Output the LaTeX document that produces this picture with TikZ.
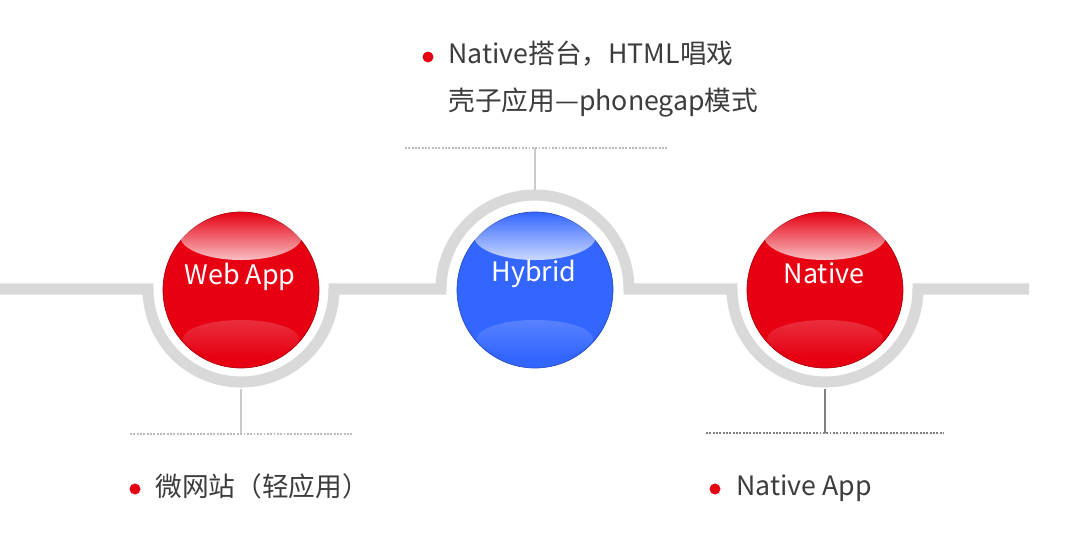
\documentclass[tikz,border=0pt]{standalone}
\usepackage{fontspec}
\setmainfont{Noto Sans CJK SC}
\usetikzlibrary{fadings}

\definecolor{appred}{HTML}{E60012}
\definecolor{hybblue}{HTML}{3366FF}
\definecolor{track}{HTML}{D9D9D9}
\definecolor{txt}{HTML}{3C3C3C}
\definecolor{stem}{HTML}{CCCCCC}
\definecolor{stemdark}{HTML}{7F7F7F}

% gloss on a ball
\newcommand{\glossball}[1]{%
  \fill[white, path fading=north, opacity=.75] ([yshift=1.08cm]#1.center) ellipse [x radius=61, y radius=24];
  \fill[white, path fading=south, opacity=.18] ([yshift=-0.98cm]#1.center) ellipse [x radius=58, y radius=19];
}

\begin{document}
\begin{tikzpicture}[x=0.02cm, y=-0.02cm,
    ball/.style={circle, inner sep=0pt, minimum size=3.12cm, draw=#1!75!black, line width=0.4pt, fill=#1},
    balltext/.style={anchor=base, inner sep=0pt, text=white, font=\fontsize{15.3}{18}\selectfont},
    rail/.style={draw=track, line width=6.3pt},
    stemline/.style={draw=#1, line width=0.85pt},
    dotline/.style={draw=#1, line width=0.8pt, dash pattern=on 1.1pt off 0.8pt},
    bullet/.style={circle, fill=appred, inner sep=0pt, minimum size=0.22cm},
    note/.style={anchor=base west, inner sep=0pt, text=txt, font=\fontsize{15.2}{20}\selectfont}]
  \useasboundingbox (0,0) rectangle (1069,534);

  % rail
  \draw[rail] (0,289) -- (148,289) arc[start angle=180, end angle=0, radius=93]
    -- (441,289) arc[start angle=180, end angle=360, radius=94]
    -- (732,289) arc[start angle=180, end angle=0, radius=93] -- (1029,289);

  % balls
  \node[ball=appred] (webapp) at (241,290) {};
  \node[ball=hybblue] (hybrid) at (535,290) {};
  \node[ball=appred] (native) at (825,290) {};
  \glossball{webapp}
  \glossball{hybrid}
  \glossball{native}
  \node[balltext] (webtxt) at (240,284) {Web App};
  \node[balltext] (hybtxt) at (534,281) {Hybrid};
  \node[balltext] (nattxt) at (824,283) {Native};

  % stems and dotted lines
  \coordinate (webtop) at (241,389);
  \coordinate (webfoot) at (241,434);
  \coordinate (webl) at (130,434);
  \coordinate (webr) at (353,434);
  \draw[stemline=stem] (webtop) -- (webfoot);
  \draw[dotline=stem!80!gray] (webl) -- (webr);

  \coordinate (hybtop) at (535,190);
  \coordinate (hybfoot) at (535,148);
  \coordinate (hybl) at (405,148);
  \coordinate (hybr) at (667,148);
  \draw[stemline=stem] (hybtop) -- (hybfoot);
  \draw[dotline=stem!80!gray] (hybl) -- (hybr);

  \coordinate (nattop) at (825,389);
  \coordinate (natfoot) at (825,433);
  \coordinate (natl) at (706,433);
  \coordinate (natr) at (944,433);
  \draw[stemline=stemdark] (nattop) -- (natfoot);
  \draw[dotline=stemdark] (natl) -- (natr);

  % notes
  \node[bullet] (hybdot) at (428,57) {};
  \node[note] (hybnote1) at (448,63) {Native搭台，HTML唱戏};
  \node[note] (hybnote2) at (448,110) {壳子应用—phonegap模式};
  \node[bullet] (webdot) at (135,489) {};
  \node[note] (webnote) at (155,496) {微网站（轻应用）};
  \node[bullet] (natdot) at (715,489) {};
  \node[note] (natnote) at (736,495) {Native App};
\end{tikzpicture}
\end{document}
